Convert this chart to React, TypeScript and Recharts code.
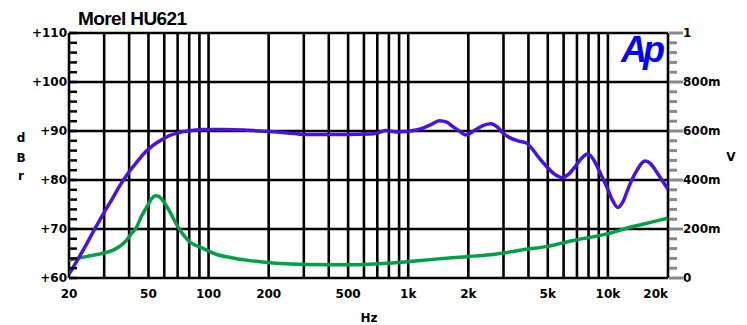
import React from 'react';
import { LineChart, Line, XAxis, YAxis, CartesianGrid } from 'recharts';

// Blue: response (dBr, left axis)
const blueFreq = [20, 22, 24, 26.5, 30, 33, 36, 40, 44, 47, 51, 55, 60, 64, 70, 75, 82, 94, 103, 120, 150, 180, 200, 250, 300, 400, 500, 640, 700, 775, 870, 976, 1150, 1300, 1430, 1560, 1660, 1800, 1940, 2180, 2400, 2590, 2800, 2960, 3200, 3600, 3880, 4190, 4500, 4890, 5400, 5900, 6400, 6900, 7400, 7900, 8400, 8800, 9300, 9900, 10500, 11200, 11900, 12700, 13800, 15400, 16300, 17300, 18500, 20000];
const blueDb = [60.8, 63.6, 66.3, 69.5, 73.4, 76.2, 78.9, 81.7, 83.8, 85.2, 86.6, 87.6, 88.5, 89.1, 89.6, 89.9, 90.1, 90.3, 90.3, 90.3, 90.2, 90.0, 89.9, 89.6, 89.3, 89.3, 89.3, 89.4, 89.6, 90.1, 89.8, 89.9, 90.4, 91.3, 92.1, 91.8, 91.0, 90.0, 89.2, 90.3, 91.2, 91.5, 90.8, 89.7, 88.7, 87.9, 87.6, 86.3, 84.6, 82.9, 81.2, 80.5, 81.3, 82.9, 84.5, 85.3, 84.4, 82.9, 80.8, 78.5, 76.0, 74.4, 75.6, 78.5, 81.6, 83.9, 83.4, 82.0, 80.2, 78.1];

// Green: (V, right axis)
const greenFreq = [20, 22.6, 26, 29.6, 33.3, 36, 38.9, 41, 43.7, 46, 49.1, 52, 54.2, 56, 59.6, 64, 70.2, 75, 80.4, 93.8, 109, 130, 155, 218, 308, 500, 748, 974, 1330, 1960, 2560, 2880, 3900, 4900, 6900, 9900, 13200, 16500, 19900];
const greenV = [0.073, 0.082, 0.092, 0.101, 0.114, 0.13, 0.155, 0.18, 0.209, 0.25, 0.29, 0.325, 0.336, 0.334, 0.311, 0.27, 0.209, 0.175, 0.148, 0.121, 0.097, 0.083, 0.073, 0.060, 0.055, 0.054, 0.059, 0.066, 0.076, 0.087, 0.095, 0.100, 0.117, 0.128, 0.155, 0.180, 0.209, 0.228, 0.244];

const xTicks = [20, 50, 100, 200, 500, 1000, 2000, 5000, 10000, 20000];
const xGrid = [20, 30, 40, 50, 60, 70, 80, 90, 100, 200, 300, 400, 500, 600, 700, 800, 900, 1000, 2000, 3000, 4000, 5000, 6000, 7000, 8000, 9000, 10000, 20000];
const dbGrid = [60, 70, 80, 90, 100, 110];
const dbTicks = [60, 62, 64, 66, 68, 70, 72, 74, 76, 78, 80, 82, 84, 86, 88, 90, 92, 94, 96, 98, 100, 102, 104, 106, 108, 110];
const vTicks = [0, 0.04, 0.08, 0.12, 0.16, 0.2, 0.24, 0.28, 0.32, 0.36, 0.4, 0.44, 0.48, 0.52, 0.56, 0.6, 0.64, 0.68, 0.72, 0.76, 0.8, 0.84, 0.88, 0.92, 0.96, 1];
const vLabels = ['0', '200m', '400m', '600m', '800m', '1'];

const rowsMap = new Map<number, any>();
blueFreq.forEach((f, i) => {
  rowsMap.set(f, { ...(rowsMap.get(f) || { f }), db: blueDb[i] });
});
greenFreq.forEach((f, i) => {
  rowsMap.set(f, { ...(rowsMap.get(f) || { f }), v: greenV[i] });
});
const data = Array.from(rowsMap.values()).sort((a, b) => a.f - b.f);

const labelStyle: React.CSSProperties = {
  fontFamily: '"DejaVu Sans", sans-serif',
  fontWeight: 'bold',
  fontSize: 12,
  fill: '#000',
};

const fmtHz = (v: number) => (v >= 1000 ? `${v / 1000}k` : `${v}`);

const XTick = (props: any) => {
  const { x, y, payload } = props;
  const last = payload.value === 20000;
  return (
    <text x={x} y={y + 20} textAnchor={last ? 'end' : 'middle'} style={labelStyle}>
      {fmtHz(payload.value)}
    </text>
  );
};

const LeftTick = (props: any) => {
  const { x, y, payload } = props;
  const v = payload.value;
  return (
    <g>
      <line x1={x} x2={x + 8} y1={y} y2={y} stroke="#000" strokeWidth={2.5} />
      {v % 10 === 0 && (
        <text x={x - 2} y={y + 4.4} textAnchor="end" style={labelStyle}>
          {`+${v}`}
        </text>
      )}
    </g>
  );
};

const RightTick = (props: any) => {
  const { x, y, index } = props;
  const major = index % 5 === 0;
  return (
    <g>
      <line x1={x + 1} x2={x + (major ? 15 : 9)} y1={y} y2={y} stroke="#888" strokeWidth={3} />
      {major && (
        <text x={x + 15} y={y + 4.4} textAnchor="start" style={labelStyle}>
          {vLabels[index / 5]}
        </text>
      )}
    </g>
  );
};

export default function App() {
  return (
    <div style={{ position: 'absolute', left: 0, top: 0, width: 747, height: 325, background: '#fff' }}>
      <LineChart width={747} height={325} data={data} margin={{ top: 33, right: 0, bottom: 0, left: 0 }}>
        <CartesianGrid
          yAxisId="db"
          horizontalValues={dbGrid}
          verticalValues={xGrid}
          stroke="#000"
          strokeWidth={2.6}
          strokeOpacity={1}
        />
        <XAxis
          dataKey="f"
          type="number"
          scale="log"
          domain={[20, 20000]}
          allowDataOverflow
          ticks={xTicks}
          interval={0}
          tick={XTick}
          tickLine={false}
          axisLine={false}
          tickSize={0}
          tickMargin={0}
          height={47}
        />
        <YAxis
          yAxisId="db"
          domain={[60, 110]}
          ticks={dbTicks}
          interval={0}
          allowDataOverflow
          tick={LeftTick}
          tickLine={false}
          axisLine={false}
          tickSize={0}
          tickMargin={0}
          width={69}
        />
        <YAxis
          yAxisId="v"
          orientation="right"
          domain={[0, 1]}
          ticks={vTicks}
          interval={0}
          allowDataOverflow
          tick={RightTick}
          tickLine={false}
          axisLine={false}
          tickSize={0}
          tickMargin={0}
          width={79}
        />
        <Line
          yAxisId="v"
          dataKey="v"
          stroke="#00a046"
          strokeWidth={3.5}
          dot={false}
          connectNulls
          type="monotone"
          isAnimationActive={false}
        />
        <Line
          yAxisId="db"
          dataKey="db"
          stroke="#4a12e0"
          strokeWidth={3.5}
          dot={false}
          connectNulls
          type="monotone"
          isAnimationActive={false}
        />
      </LineChart>
      <svg width={747} height={325} style={{ position: 'absolute', left: 0, top: 0, pointerEvents: 'none' }}>
        <text x={78} y={25} style={{ fontFamily: '"Liberation Sans", Arial, sans-serif', fontWeight: 'bold', fontSize: 19, letterSpacing: -0.6 }} fill="#000">
          Morel HU621
        </text>
        <text x={621} y={62} style={{ fontFamily: '"Liberation Sans", Arial, sans-serif', fontWeight: 'bold', fontStyle: 'italic', fontSize: 36, letterSpacing: -4 }} fill="#0000ff">
          Ap
        </text>
        <text x={21} y={142} textAnchor="middle" style={labelStyle}>d</text>
        <text x={21} y={162} textAnchor="middle" style={labelStyle}>B</text>
        <text x={21} y={180} textAnchor="middle" style={labelStyle}>r</text>
        <text x={731} y={161} textAnchor="middle" style={labelStyle}>V</text>
        <text x={369} y={322} textAnchor="middle" style={labelStyle}>Hz</text>
      </svg>
    </div>
  );
}
